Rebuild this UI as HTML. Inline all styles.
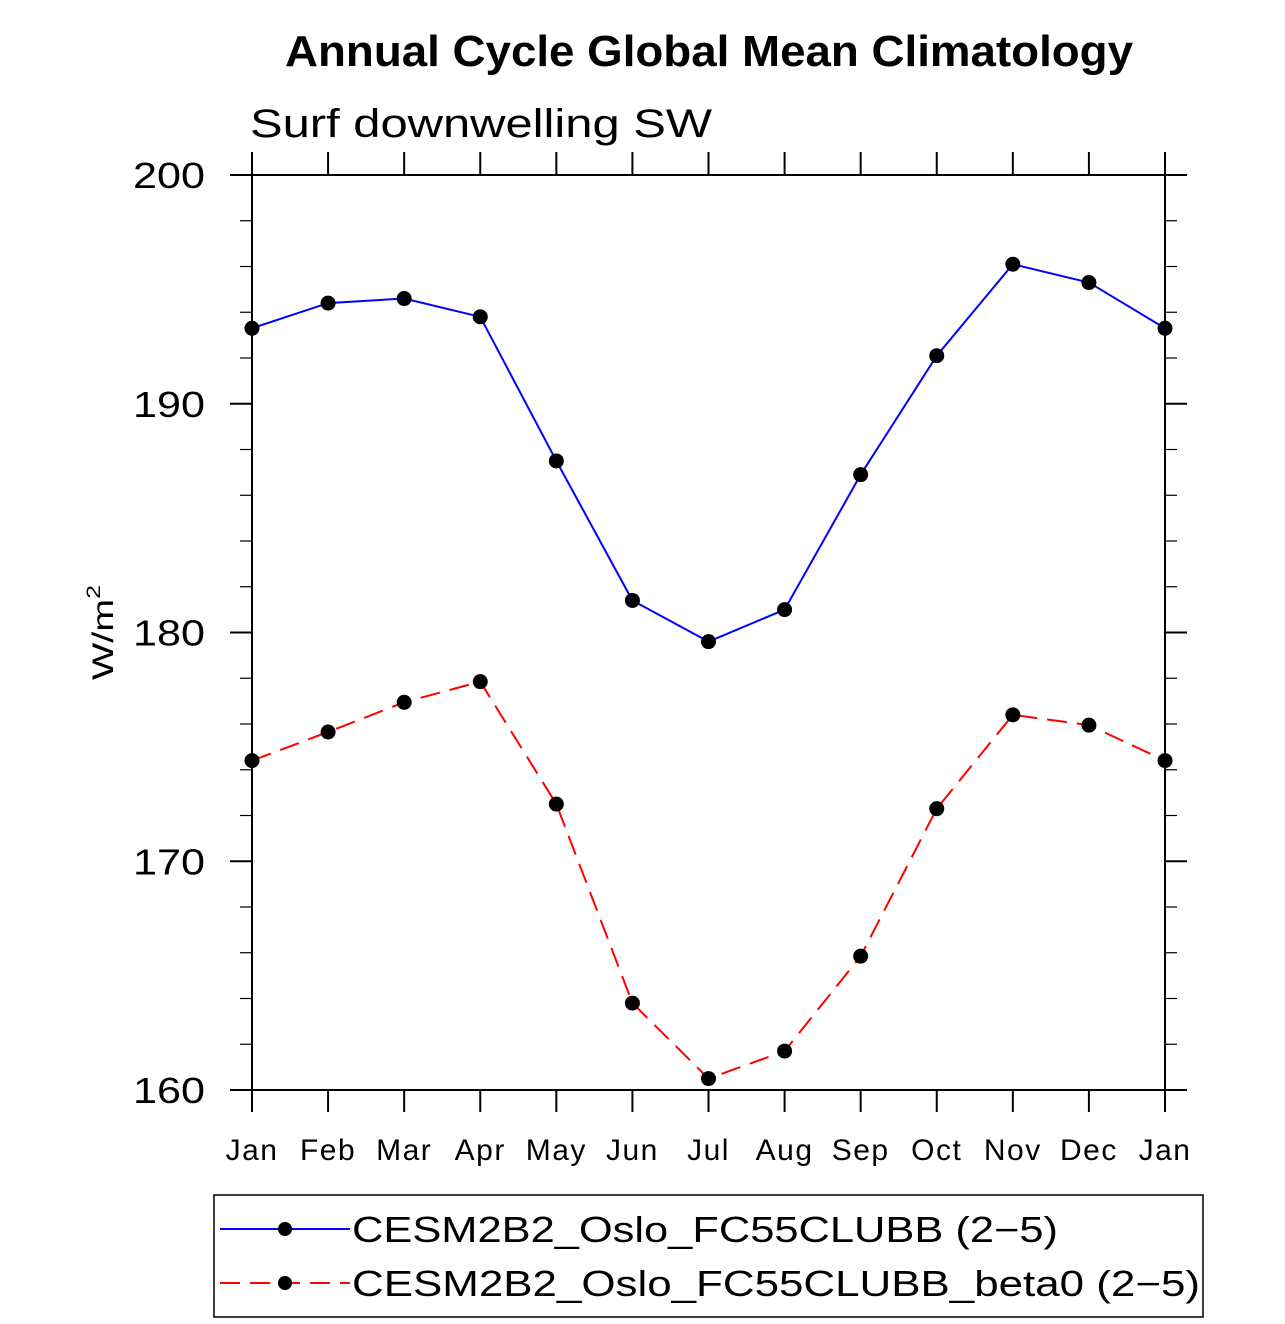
<!DOCTYPE html>
<html><head><meta charset="utf-8"><style>
body{margin:0;background:#fff;}
svg{display:block;}
text{font-family:"Liberation Sans","DejaVu Sans",sans-serif;}
</style></head><body>
<svg id="chart" width="1285" height="1324" viewBox="0 0 1285 1324">
<text x="285" y="66" font-size="44" font-weight="bold" textLength="848" lengthAdjust="spacingAndGlyphs">Annual Cycle Global Mean Climatology</text>
<text x="250" y="137" font-size="40" font-weight="300" textLength="462" lengthAdjust="spacingAndGlyphs">Surf downwelling SW</text>
<text transform="translate(113,680) rotate(-90)" font-size="30" textLength="95" lengthAdjust="spacingAndGlyphs">W/m<tspan dy="-13" font-size="19">2</tspan></text>
<g id="axes"></g>
<g id="series"></g>
<g>
<rect x="214" y="1195" width="989" height="122" fill="none" stroke="#000" stroke-width="1.5"/>
<g>
<line x1="220" y1="1229" x2="350" y2="1229" stroke="#0000ff" stroke-width="2"/>
<circle cx="285" cy="1229" r="7" fill="#000"/>
<text x="352" y="1242" font-size="36" font-weight="300" textLength="706" lengthAdjust="spacingAndGlyphs">CESM2B2_Oslo_FC55CLUBB (2−5)</text>
</g>
<g>
<line x1="220" y1="1283" x2="350" y2="1283" stroke="#ff0000" stroke-width="2" stroke-dasharray="20,10"/>
<circle cx="285" cy="1283" r="7" fill="#000"/>
<text x="352" y="1296" font-size="36" font-weight="300" textLength="848" lengthAdjust="spacingAndGlyphs">CESM2B2_Oslo_FC55CLUBB_beta0 (2−5)</text>
</g>
</g>
</svg>
<script>
const months = ["Jan","Feb","Mar","Apr","May","Jun","Jul","Aug","Sep","Oct","Nov","Dec","Jan"];
const blueValues = [193.3,194.4,194.6,193.8,187.5,181.4,179.6,181.0,186.9,192.1,196.1,195.3,193.3];
const redValues = [174.4,175.65,176.95,177.85,172.5,163.8,160.5,161.7,165.85,172.3,176.4,175.95,174.4];
const yTicks = [160,170,180,190,200];
const NS = "http://www.w3.org/2000/svg";
const L=252,R=1165,T=175,B=1090,yMin=160,yMax=200;
const xs = i => L + i*(R-L)/(months.length-1);
const ys = v => B - (v-yMin)/(yMax-yMin)*(B-T);
function mk(tag, attrs, parent){const e=document.createElementNS(NS,tag);for(const k in attrs)e.setAttribute(k,attrs[k]);parent.appendChild(e);return e;}
const axes=document.getElementById('axes');
const frame=mk('rect',{x:L,y:T,width:R-L,height:B-T,fill:'none',stroke:'#000','stroke-width':2},axes);


months.forEach((m,i)=>{
  const x=xs(i);
  mk('line',{x1:x,y1:B,x2:x,y2:B+22,stroke:'#000','stroke-width':2},axes);
  mk('line',{x1:x,y1:T,x2:x,y2:T-23,stroke:'#000','stroke-width':2},axes);
  const t=mk('text',{x:x,y:B+70,'text-anchor':'middle','font-size':30,'font-weight':300,'letter-spacing':1.5},axes);
  t.textContent=m;
  
  
});
for(let v=yMin;v<=yMax;v+=2){
  const y=ys(v), major=(v%10===0);
  const len=major?22:12;
  mk('line',{x1:L-len,y1:y,x2:L,y2:y,stroke:'#000','stroke-width':major?2:1.2},axes);
  mk('line',{x1:R,y1:y,x2:R+len,y2:y,stroke:'#000','stroke-width':major?2:1.2},axes);
}
yTicks.forEach(v=>{
  const t=mk('text',{x:133,y:ys(v)+13,'font-size':36,'font-weight':300,textLength:72,lengthAdjust:'spacingAndGlyphs'},axes);
  t.textContent=v;
  
  
});
const series=document.getElementById('series');
function draw(vals,color,dash,name){
  const g=mk('g',{},series);
  
  
  const p=mk('polyline',{points:vals.map((v,i)=>xs(i)+','+ys(v)).join(' '),fill:'none',stroke:color,'stroke-width':2,'stroke-dasharray':dash},g);
  
  
  vals.forEach((v,i)=>{
    const c=mk('circle',{cx:xs(i),cy:ys(v),r:7.5,fill:'#000'},g);
    
    
  });
}
draw(blueValues,'#0000ff','none','series-fc55clubb');
draw(redValues,'#ff0000','20,10','series-fc55clubb-beta0');
</script>
</body></html>
